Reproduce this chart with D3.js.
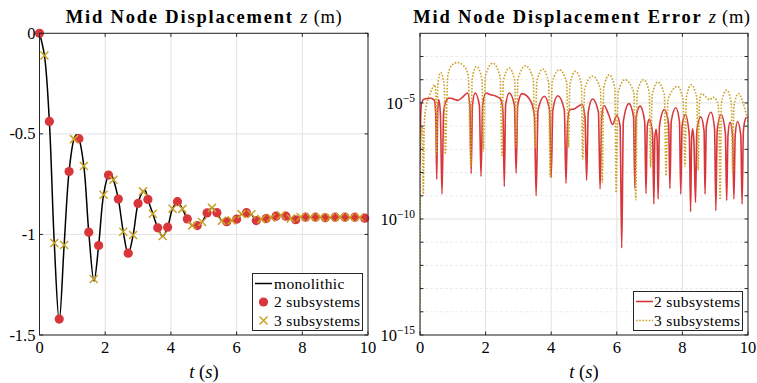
<!DOCTYPE html>
<html><head><meta charset="utf-8">
<script src="https://cdn.jsdelivr.net/npm/d3@7"></script>
<style>
body{margin:0;background:#fff;}
svg{display:block;}
text{font-family:"Liberation Serif","Times New Roman",serif;fill:#000;}
</style></head>
<body><svg id="c" width="757" height="383"></svg>
<script>
// ---------------- DATA ----------------
const xTicks = [0, 2, 4, 6, 8, 10];
const zTicks = [0, -0.5, -1, -1.5];
const zTickLabels = ["0", "-0.5", "-1", "-1.5"];
const errTickExp = [-5, -10, -15];
const errMinorExp = [-15,-14,-13,-12,-11,-10,-9,-8,-7,-6,-5,-4,-3];

// monolithic reference solution
const monoT = [0,0.15,0.3,0.45,0.6,0.75,0.9,1.05,1.125,1.2,1.35,1.5,1.66,1.8,1.95,2.1,2.17,2.25,2.4,2.55,2.7,2.85,3.0,3.15,3.22,3.3,3.45,3.6,3.75,3.9,4.05,4.2,4.35,4.5,4.65,4.8,4.95,5.1,5.25,5.4,5.55,5.7,5.85,6.0,6.15,6.3,6.45,6.6,6.75,6.9,7.05,7.2,7.35,7.5,7.65,7.8,7.95,8.1,8.25,8.4,8.55,8.7,8.85,9.0,9.15,9.3,9.45,9.6,9.75,9.9,10];
const monoZ = [0,-0.11,-0.438,-1.043,-1.43,-1.053,-0.687,-0.526,-0.505,-0.524,-0.660,-0.989,-1.232,-1.055,-0.803,-0.705,-0.697,-0.728,-0.824,-0.987,-1.097,-1.003,-0.846,-0.786,-0.782,-0.826,-0.897,-0.967,-1.01,-0.964,-0.872,-0.837,-0.873,-0.923,-0.955,-0.956,-0.938,-0.893,-0.868,-0.892,-0.932,-0.937,-0.930,-0.924,-0.899,-0.892,-0.900,-0.931,-0.924,-0.921,-0.917,-0.909,-0.905,-0.909,-0.921,-0.927,-0.913,-0.914,-0.915,-0.914,-0.914,-0.917,-0.916,-0.914,-0.914,-0.914,-0.916,-0.914,-0.915,-0.919,-0.917];

// 2 subsystems (circles)
const sub2T = [0,0.3,0.6,0.9,1.2,1.5,1.8,2.1,2.4,2.7,3.0,3.3,3.6,3.9,4.2,4.5,4.8,5.1,5.4,5.7,6.0,6.3,6.6,6.9,7.2,7.5,7.8,8.1,8.4,8.7,9.0,9.3,9.6,9.9];
const sub2Z = [0,-0.438,-1.421,-0.687,-0.524,-0.989,-1.055,-0.705,-0.824,-1.093,-0.846,-0.826,-0.967,-0.964,-0.837,-0.923,-0.956,-0.893,-0.892,-0.937,-0.924,-0.892,-0.931,-0.921,-0.909,-0.909,-0.927,-0.914,-0.914,-0.917,-0.914,-0.914,-0.914,-0.919];

// 3 subsystems (crosses)
const sub3T = [0.15,0.45,0.75,1.05,1.35,1.65,1.95,2.25,2.55,2.85,3.15,3.45,3.75,4.05,4.35,4.65,4.95,5.25,5.55,5.85,6.15,6.45,6.75,7.05,7.35,7.65,7.95,8.25,8.55,8.85,9.15,9.45,9.75];
const sub3Z = [-0.11,-1.043,-1.053,-0.526,-0.660,-1.222,-0.803,-0.728,-0.987,-1.003,-0.786,-0.897,-1.008,-0.872,-0.873,-0.955,-0.938,-0.868,-0.932,-0.930,-0.899,-0.900,-0.924,-0.917,-0.905,-0.921,-0.913,-0.915,-0.914,-0.916,-0.914,-0.916,-0.915];

// error, 2 subsystems: [t, log10(error)]
const err2 = [[0,-7.69],[0.02,-5.6],[0.05,-5.0],[0.13,-4.83],[0.33,-4.8],[0.44,-4.89],[0.48,-5.5],[0.51,-8.29],[0.54,-5.4],[0.57,-4.86],[0.62,-5.4],[0.67,-8.93],[0.72,-5.4],[0.79,-4.93],[0.89,-4.79],[1.0,-4.82],[1.15,-4.89],[1.3,-4.75],[1.45,-4.57],[1.52,-5.1],[1.56,-8.04],[1.60,-5.1],[1.68,-4.57],[1.81,-5.1],[1.86,-8.17],[1.91,-5.1],[2.01,-4.57],[2.15,-4.65],[2.32,-4.71],[2.47,-4.86],[2.53,-5.4],[2.57,-8.6],[2.61,-5.1],[2.72,-4.57],[2.88,-5.1],[2.93,-8.03],[2.98,-5.1],[3.11,-4.6],[3.38,-4.93],[3.49,-5.6],[3.54,-9.0],[3.60,-5.3],[3.79,-4.71],[3.95,-5.3],[4.0,-8.21],[4.05,-5.3],[4.2,-4.69],[4.4,-5.3],[4.45,-8.46],[4.5,-5.8],[4.57,-5.29],[4.7,-5.26],[4.86,-5.11],[4.94,-5.07],[5.03,-5.6],[5.08,-8.33],[5.13,-5.4],[5.26,-4.83],[5.44,-5.4],[5.49,-8.71],[5.54,-5.6],[5.61,-5.11],[5.75,-5.5],[5.87,-5.93],[6.0,-5.54],[6.1,-6.0],[6.15,-11.25],[6.2,-5.8],[6.37,-5.03],[6.51,-5.6],[6.55,-8.69],[6.59,-5.6],[6.71,-5.14],[6.85,-5.8],[6.89,-8.9],[6.93,-6.0],[6.99,-5.71],[7.09,-6.3],[7.13,-9.36],[7.16,-6.5],[7.2,-6.14],[7.23,-6.6],[7.26,-9.14],[7.30,-6.0],[7.45,-5.29],[7.58,-5.9],[7.62,-8.69],[7.66,-5.8],[7.8,-5.21],[7.91,-5.8],[7.95,-8.93],[7.99,-6.0],[8.09,-5.5],[8.21,-6.4],[8.25,-9.69],[8.28,-6.6],[8.31,-6.11],[8.35,-6.6],[8.4,-9.29],[8.44,-6.2],[8.56,-5.6],[8.66,-6.2],[8.69,-8.93],[8.73,-6.0],[8.87,-5.4],[8.98,-6.1],[9.02,-9.64],[9.06,-6.2],[9.18,-5.5],[9.31,-6.3],[9.35,-9.21],[9.39,-6.4],[9.45,-5.83],[9.53,-6.4],[9.57,-9.14],[9.61,-6.4],[9.68,-5.8],[9.78,-6.4],[9.82,-9.36],[9.86,-6.2],[9.94,-5.64],[10,-5.62]];

// error, 3 subsystems: [t, log10(error)]
const err3 = [[0,-16],[0.02,-6.5],[0.07,-6.0],[0.10,-8.93],[0.13,-5.9],[0.18,-5.21],[0.28,-4.71],[0.38,-4.36],[0.45,-4.22],[0.48,-4.6],[0.51,-7.21],[0.54,-4.25],[0.63,-3.69],[0.74,-4.25],[0.77,-7.21],[0.85,-3.8],[0.97,-3.38],[1.14,-3.26],[1.33,-3.4],[1.47,-3.8],[1.55,-7.74],[1.59,-3.98],[1.72,-3.43],[1.89,-3.98],[1.93,-7.07],[1.99,-3.85],[2.22,-3.29],[2.44,-3.85],[2.50,-7.26],[2.54,-4.05],[2.72,-3.5],[2.89,-4.05],[2.93,-6.9],[2.99,-3.95],[3.22,-3.4],[3.45,-3.95],[3.51,-6.93],[3.56,-4.1],[3.74,-3.54],[3.92,-4.1],[3.97,-8.21],[4.03,-4.12],[4.25,-3.57],[4.47,-4.12],[4.53,-6.93],[4.57,-4.2],[4.74,-3.64],[4.92,-4.2],[4.96,-7.43],[5.02,-4.4],[5.26,-3.85],[5.50,-4.4],[5.56,-8.43],[5.60,-4.35],[5.77,-3.79],[5.94,-4.35],[5.98,-8.86],[6.04,-4.55],[6.25,-4.0],[6.52,-4.55],[6.58,-9.17],[6.62,-4.55],[6.82,-4.0],[6.99,-4.55],[7.03,-7.79],[7.08,-4.65],[7.25,-4.1],[7.45,-4.65],[7.5,-8.14],[7.56,-4.85],[7.85,-4.29],[8.02,-4.85],[8.08,-7.74],[8.12,-4.78],[8.27,-4.22],[8.44,-4.78],[8.48,-7.9],[8.52,-5.0],[8.58,-4.6],[8.7,-4.72],[8.83,-4.86],[8.93,-4.75],[9.05,-4.9],[9.11,-5.4],[9.15,-9.17],[9.19,-5.0],[9.35,-4.45],[9.49,-5.0],[9.53,-7.97],[9.57,-5.15],[9.71,-4.6],[9.85,-5.0],[9.93,-5.4],[10,-5.8]];

// ---------------- STYLE ----------------
const RED = "#d9363b", GOLD = "#c9a227", AXC = "#262626", GRID = "#e3e3e3";
const svg = d3.select("#c");

// ---------------- LEFT PANEL ----------------
const L = {x0:39.5, x1:368, y0:33.3, y1:335};
const xL = d3.scaleLinear([0,10],[L.x0,L.x1]);
const yL = d3.scaleLinear([0,-1.5],[L.y0,L.y1]);
const gL = svg.append("g");

gL.append("rect").attr("x",L.x0).attr("y",L.y0).attr("width",L.x1-L.x0).attr("height",L.y1-L.y0).attr("fill","#fff");
gL.selectAll(".gx").data(xTicks).join("line").attr("x1",d=>xL(d)).attr("x2",d=>xL(d)).attr("y1",L.y0).attr("y2",L.y1).attr("stroke",GRID).attr("stroke-width",1);
gL.selectAll(".gy").data(zTicks).join("line").attr("y1",d=>yL(d)).attr("y2",d=>yL(d)).attr("x1",L.x0).attr("x2",L.x1).attr("stroke",GRID).attr("stroke-width",1);

gL.append("defs").append("clipPath").attr("id","clipL").append("rect").attr("x",L.x0-6).attr("y",L.y0-6).attr("width",L.x1-L.x0+12).attr("height",L.y1-L.y0+12);
const cL = gL.append("g").attr("clip-path","url(#clipL)");
const mono = monoT.map((t,i)=>[t,monoZ[i]]);
cL.append("path").datum(mono).attr("fill","none").attr("stroke","#000").attr("stroke-width",1.5)
  .attr("d", d3.line().x(d=>xL(d[0])).y(d=>yL(d[1])).curve(d3.curveCatmullRom.alpha(0.5)));
cL.selectAll(".c2").data(sub2T.map((t,i)=>[t,sub2Z[i]])).join("circle")
  .attr("cx",d=>xL(d[0])).attr("cy",d=>yL(d[1])).attr("r",4.6).attr("fill",RED);
const crossPath = "M-4,-4L4,4M-4,4L4,-4";
cL.selectAll(".c3").data(sub3T.map((t,i)=>[t,sub3Z[i]])).join("path")
  .attr("transform",d=>`translate(${xL(d[0])},${yL(d[1])})`).attr("d",crossPath)
  .attr("stroke",GOLD).attr("stroke-width",1.5).attr("fill","none");

// axes box + ticks
function boxAndTicks(g, B, xs, xpos, ys, ypos, tlen){
  g.append("rect").attr("x",B.x0).attr("y",B.y0).attr("width",B.x1-B.x0).attr("height",B.y1-B.y0).attr("fill","none").attr("stroke",AXC).attr("stroke-width",1);
  xs.forEach(v=>{const x=xpos(v);
    g.append("line").attr("x1",x).attr("x2",x).attr("y1",B.y1).attr("y2",B.y1-tlen).attr("stroke",AXC);
    g.append("line").attr("x1",x).attr("x2",x).attr("y1",B.y0).attr("y2",B.y0+tlen).attr("stroke",AXC);});
  ys.forEach(v=>{const y=ypos(v);
    g.append("line").attr("y1",y).attr("y2",y).attr("x1",B.x0).attr("x2",B.x0+tlen).attr("stroke",AXC);
    g.append("line").attr("y1",y).attr("y2",y).attr("x1",B.x1).attr("x2",B.x1-tlen).attr("stroke",AXC);});
}
boxAndTicks(gL, L, xTicks, xL, zTicks, yL, 3.5);

gL.selectAll(".xl").data(xTicks).join("text").attr("x",d=>xL(d)).attr("y",353).attr("text-anchor","middle").attr("font-size",16.5).text(d=>d);
gL.selectAll(".yl").data(zTicks).join("text").attr("x",35.5).attr("y",d=>yL(d)+5.5).attr("text-anchor","end").attr("font-size",16.5).text((d,i)=>zTickLabels[i]);

function titleText(g, cx, y, boldPart){
  const t = g.append("text").attr("x",cx).attr("y",y).attr("text-anchor","middle").attr("font-size",18.5);
  t.append("tspan").attr("font-weight","bold").attr("letter-spacing",1.8).text(boldPart);
  t.append("tspan").attr("font-style","italic").attr("letter-spacing",1).text("z");
  t.append("tspan").attr("letter-spacing",0.6).text(" (m)");
}
titleText(gL, 204, 23, "Mid Node Displacement ");
function xlabel(g, cx){
  const t = g.append("text").attr("x",cx).attr("y",378).attr("text-anchor","middle").attr("font-size",18.5);
  t.append("tspan").attr("font-style","italic").text("t");
  t.append("tspan").text(" (");
  t.append("tspan").attr("font-style","italic").text("s");
  t.append("tspan").text(")");
}
xlabel(gL, 204);

// left legend
const lg = gL.append("g");
lg.append("rect").attr("x",252.5).attr("y",273.5).attr("width",110).attr("height",57).attr("fill","#fff").attr("stroke",AXC).attr("stroke-width",1);
lg.append("line").attr("x1",255).attr("x2",272).attr("y1",283.5).attr("y2",283.5).attr("stroke","#000").attr("stroke-width",1.5);
lg.append("circle").attr("cx",263.5).attr("cy",302).attr("r",4.6).attr("fill",RED);
lg.append("path").attr("transform","translate(263.5,320.5)").attr("d",crossPath).attr("stroke",GOLD).attr("stroke-width",1.5);
const legLabels = ["monolithic","2 subsystems","3 subsystems"];
lg.selectAll("text").data(legLabels).join("text").attr("x",274).attr("y",(d,i)=>288.5+i*18.5).attr("font-size",15.5).attr("letter-spacing",0.35).text(d=>d);

// ---------------- RIGHT PANEL ----------------
const R = {x0:420, x1:748, y0:33.3, y1:335};
const xR = d3.scaleLinear([0,10],[R.x0,R.x1]);
const yR = d3.scaleLog([1e-2,1e-15],[R.y0,R.y1]);
const gR = svg.append("g");
gR.selectAll(".mg").data(errMinorExp.filter(e=>errTickExp.indexOf(e)<0)).join("line")
  .attr("x1",R.x0).attr("x2",R.x1).attr("y1",d=>yR(Math.pow(10,d))).attr("y2",d=>yR(Math.pow(10,d)))
  .attr("stroke","#ebebeb").attr("stroke-width",1).attr("stroke-dasharray","3,2");
gR.selectAll(".gx").data(xTicks).join("line").attr("x1",d=>xR(d)).attr("x2",d=>xR(d)).attr("y1",R.y0).attr("y2",R.y1).attr("stroke",GRID);
gR.selectAll(".gy").data(errTickExp).join("line").attr("x1",R.x0).attr("x2",R.x1).attr("y1",d=>yR(Math.pow(10,d))).attr("y2",d=>yR(Math.pow(10,d))).attr("stroke",GRID);

gR.append("defs").append("clipPath").attr("id","clipR").append("rect").attr("x",R.x0).attr("y",R.y0).attr("width",R.x1-R.x0).attr("height",R.y1-R.y0);
const cR = gR.append("g").attr("clip-path","url(#clipR)");
const lineR = d3.line().x(d=>xR(d[0])).y(d=>yR(Math.pow(10,d[1]))).curve(d3.curveMonotoneX);
cR.append("path").datum(err2).attr("fill","none").attr("stroke",RED).attr("stroke-width",1.6).attr("d",lineR);
cR.append("path").datum(err3).attr("fill","none").attr("stroke",GOLD).attr("stroke-width",1.6).attr("stroke-dasharray","1.6,1.6").attr("d",lineR);

boxAndTicks(gR, R, xTicks, xR, errMinorExp, d=>yR(Math.pow(10,d)), 3.5);
gR.selectAll(".xl").data(xTicks).join("text").attr("x",d=>xR(d)).attr("y",353).attr("text-anchor","middle").attr("font-size",16.5).text(d=>d);
errTickExp.forEach(e=>{
  const t = gR.append("text").attr("x",415).attr("y",yR(Math.pow(10,e))+6).attr("text-anchor","end").attr("font-size",16.5);
  t.append("tspan").text("10");
  t.append("tspan").attr("dy",-7).attr("font-size",11.5).text("\u2212"+(-e));
});
titleText(gR, 582, 23, "Mid Node Displacement Error ");
xlabel(gR, 584);

const rg = gR.append("g");
rg.append("rect").attr("x",633.5).attr("y",291.5).attr("width",109).attr("height",39).attr("fill","#fff").attr("stroke",AXC).attr("stroke-width",1);
rg.append("line").attr("x1",636).attr("x2",653).attr("y1",301.5).attr("y2",301.5).attr("stroke",RED).attr("stroke-width",1.6);
rg.append("line").attr("x1",636).attr("x2",653).attr("y1",320.5).attr("y2",320.5).attr("stroke",GOLD).attr("stroke-width",1.6).attr("stroke-dasharray","1.6,1.6");
rg.selectAll("text").data(["2 subsystems","3 subsystems"]).join("text").attr("x",654).attr("y",(d,i)=>306.5+i*19).attr("font-size",15.5).attr("letter-spacing",0.35).text(d=>d);
</script></body></html>
